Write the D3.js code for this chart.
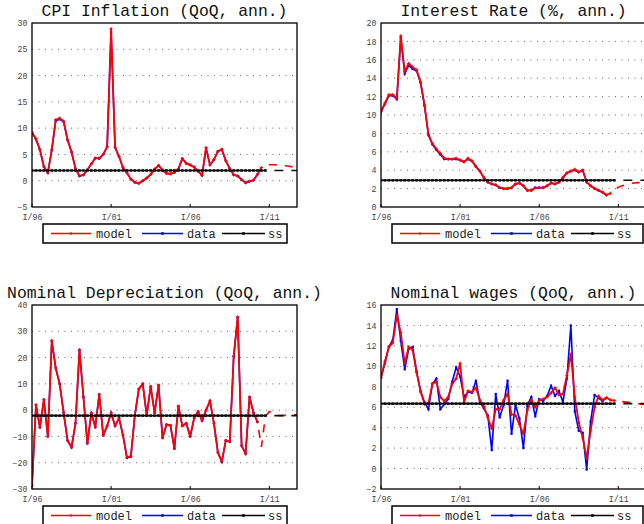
<!DOCTYPE html>
<html>
<head>
<meta charset="utf-8">
<script src="https://cdn.jsdelivr.net/npm/d3@7"></script>
<style>
  html, body { margin: 0; padding: 0; background: #ffffff; }
  svg { display: block; }
</style>
</head>
<body>
<svg id="chart" width="644" height="524"></svg>
<script>
// ---------------- DATA (quarterly, index 0 = 1996 Q1) ----------------
const quarterTicks = [0, 20, 40, 60];
const quarterTickLabels = ["I/96", "I/01", "I/06", "I/11"];
const lastQuarter = 67;

const legendLabels = ["model", "data", "ss"];

// CPI inflation
const cpiModel = [9.2, 8.0, 5.9, 2.7, 1.5, 5.9, 11.6, 11.9, 11.3, 7.8,
  5.5, 2.3, 0.9, 1.1, 2.1, 3.2, 4.3, 4.3, 5.0, 6.5,
  28.9, 6.4, 4.6, 2.5, 1.5, 0.3, -0.3, -0.5, 0.0, 0.5,
  1.2, 2.2, 2.9, 2.0, 1.4, 1.3, 1.6, 2.2, 4.2, 3.3,
  3.0, 2.6, 1.8, 1.0, 6.3, 3.0, 4.0, 5.6, 6.0, 3.8,
  2.3, 1.1, 0.9, 0.2, -0.4, -0.1, 0.1, 1.2, 2.5];
const cpiData = [9.1, 7.9, 5.9, 2.6, 1.5, 5.8, 11.4, 11.7, 11.2, 7.7,
  5.4, 2.3, 0.9, 1.1, 2.1, 3.2, 4.3, 4.2, 5.0, 6.4,
  28.3, 6.3, 4.6, 2.5, 1.5, 0.3, -0.3, -0.5, 0.0, 0.5,
  1.2, 2.2, 2.9, 2.0, 1.4, 1.3, 1.6, 2.2, 4.2, 3.3,
  3.0, 2.6, 1.8, 1.0, 6.2, 3.0, 4.0, 5.6, 5.9, 3.8,
  2.3, 1.1, 0.9, 0.2, -0.4, -0.1, 0.1, 1.2];
const cpiForecast = [2.5, 2.9, 3.05, 3.05, 3.0, 2.9, 2.85, 2.75, 2.6, 2.45]; // from Q58
const cpiSteadyState = 1.95;

// Interest rate
const rateModel = [10.4, 11.3, 12.2, 12.2, 11.8, 18.6, 14.7, 15.6, 15.2, 14.9,
  13.6, 11.1, 7.9, 6.9, 6.3, 5.8, 5.3, 5.2, 5.2, 5.3,
  5.1, 4.9, 5.3, 5.0, 4.4, 3.9, 3.2, 2.7, 2.5, 2.4,
  2.1, 2.0, 2.0, 2.1, 2.5, 2.6, 2.3, 1.8, 1.8, 2.1,
  2.1, 2.1, 2.3, 2.6, 2.5, 2.7, 3.2, 3.7, 3.9, 4.1,
  3.8, 4.0, 2.7, 2.3, 2.0, 1.8, 1.6, 1.3, 1.5];
const rateData = [10.3, 11.2, 12.1, 12.1, 11.7, 18.4, 14.5, 15.4, 15.0, 14.8,
  13.5, 11.0, 7.8, 6.8, 6.2, 5.7, 5.2, 5.2, 5.2, 5.2,
  5.1, 4.9, 5.2, 5.0, 4.4, 3.9, 3.2, 2.7, 2.5, 2.4,
  2.1, 2.0, 2.0, 2.1, 2.5, 2.6, 2.3, 1.8, 1.8, 2.1,
  2.1, 2.1, 2.3, 2.6, 2.5, 2.7, 3.2, 3.7, 3.9, 4.0,
  3.8, 4.0, 2.7, 2.3, 2.0, 1.8, 1.6, 1.3];
const rateForecast = [1.5, 1.85, 2.15, 2.3, 2.45, 2.55, 2.6, 2.65, 2.7, 2.72]; // from Q58
const rateSteadyState = 2.9;

// Nominal depreciation
const depModel = [-28.5, 2, -6.5, 4, -10, 26.5, 16, 10, -1, -11.5,
  -14, -5, 23, 5, -12.5, -1, -6.5, 6, -9.5, -6,
  -1, -6, -3, -9.5, -18, -17.5, -2, 8, 10, -2,
  9, -1, 9.5, -10.5, -5.5, -5.8, -14.5, 1.5, -6, -5,
  -10, -3, -0.5, -4, 0, 3.5, -5, -16, -19.5, -11.5,
  -12, 20.5, 35.5, -13.5, -16.5, 5, -1, -4.5];
const depData = [-28.8, 2, -6.6, 4, -10, 26.2, 16, 10, -1, -11.7,
  -14.2, -5, 22.8, 5, -12.7, -1, -6.5, 6, -9.6, -6,
  -1, -6, -3, -9.5, -18.2, -17.7, -2, 8, 10, -2,
  9, -1, 9.5, -10.6, -5.5, -5.8, -14.7, 1.5, -6, -5,
  -10, -3, -0.5, -4, 0, 3.5, -5, -16.2, -19.7, -11.5,
  -12, 20.5, 35.2, -13.6, -16.6, 5, -1, -4.5];
const depForecast = [-4.5, -14, -2.5, -0.5, -1.3, -2.0, -2.1, -2.0, -1.9, -1.8, -1.8]; // from Q57
const depSteadyState = -2.1;

// Nominal wages
const wageModel = [8.9, 10.5, 11.9, 12.3, 15.0, 13.3, 10.3, 11.9, 11.6, 9.4,
  7.6, 6.3, 6.4, 8.3, 8.5, 7.0, 6.6, 7.0, 8.3, 8.8,
  10.3, 6.5, 7.6, 7.5, 7.9, 6.7, 6.1, 5.0, 3.9, 5.8,
  5.8, 6.7, 7.3, 5.3, 5.2, 4.3, 3.4, 5.7, 6.7, 6.0,
  6.7, 6.8, 7.0, 7.4, 7.9, 7.2, 7.3, 9.1, 11.2, 7.0,
  4.5, 3.0, 1.0, 3.7, 6.0, 7.1, 6.7, 6.95, 6.7, 6.65];
const wageData = [8.9, 10.3, 11.9, 12.6, 15.6, 12.5, 9.7, 11.7, 11.9, 9.5,
  7.5, 6.5, 5.8, 8.3, 8.8, 5.8, 6.3, 6.8, 8.5, 9.9,
  9.0, 7.0, 7.5, 7.4, 8.6, 6.5, 5.9, 5.2, 1.8, 7.3,
  5.0, 6.2, 8.6, 3.4, 6.2, 4.9, 2.0, 6.2, 7.0, 5.1,
  6.8, 6.6, 7.1, 8.1, 7.1, 7.6, 6.5, 8.8, 14.0, 5.6,
  3.7, 3.5, -0.1, 4.6, 7.2, 6.9, 6.6, 6.9];
const wageForecast = [6.65, 6.6, 6.55, 6.5, 6.45, 6.4, 6.35, 6.3, 6.28]; // from Q59
const wageSteadyState = 6.35;
const ssSolidEnd = 59;

// ---------------- PANELS (layout only) ----------------
const panels = [
  { title: "CPI Inflation (QoQ, ann.)", left: 32, top: 23, yDomain: [-5, 30], yStep: 5,
    model: cpiModel, data: cpiData, fc: cpiForecast, ss: cpiSteadyState, legendW: 244 },
  { title: "Interest Rate (%, ann.)", left: 381, top: 23, yDomain: [0, 20], yStep: 2,
    model: rateModel, data: rateData, fc: rateForecast, ss: rateSteadyState, legendW: 251 },
  { title: "Nominal Depreciation (QoQ, ann.)", left: 32, top: 305, yDomain: [-30, 40], yStep: 10,
    model: depModel, data: depData, fc: depForecast, ss: depSteadyState, legendW: 244 },
  { title: "Nominal wages (QoQ, ann.)", left: 381, top: 305, yDomain: [-2, 16], yStep: 2,
    model: wageModel, data: wageData, fc: wageForecast, ss: wageSteadyState, legendW: 251 }
];

const PW = 265, PH = 184;
const RED = "#ff0000", BLUE = "#0000ff", BLACK = "#000000";
const MONO = "'Liberation Mono', 'DejaVu Sans Mono', monospace";

const svg = d3.select("#chart");

function plusMarker(g, pts, color) {
  g.selectAll(null).data(pts).enter().append("path")
    .attr("d", d => `M${d[0]-1.6},${d[1]}h3.2M${d[0]},${d[1]-1.6}v3.2`)
    .attr("stroke", color).attr("stroke-width", 1).attr("fill", "none");
}
function squareMarker(g, pts, color, s) {
  g.selectAll(null).data(pts).enter().append("rect")
    .attr("x", d => d[0] - s/2).attr("y", d => d[1] - s/2)
    .attr("width", s).attr("height", s).attr("fill", color);
}

panels.forEach((p, k) => {
  const x = d3.scaleLinear().domain([0, lastQuarter]).range([p.left, p.left + PW]);
  const y = d3.scaleLinear().domain(p.yDomain).range([p.top + PH, p.top]);
  const g = svg.append("g");
  const yTicks = d3.range(p.yDomain[0], p.yDomain[1] + 1e-9, p.yStep);

  const clipId = "clip" + k;
  svg.append("clipPath").attr("id", clipId).append("rect")
    .attr("x", p.left).attr("y", p.top).attr("width", PW).attr("height", PH);

  // grid (horizontal dotted)
  g.append("g").selectAll("line")
    .data(yTicks.filter(v => v > p.yDomain[0] && v < p.yDomain[1]))
    .enter().append("line")
    .attr("x1", p.left).attr("x2", p.left + PW)
    .attr("y1", d => y(d)).attr("y2", d => y(d))
    .attr("stroke", "#666").attr("stroke-width", 1)
    .attr("stroke-dasharray", "1,5.5");

  // y axis labels
  const ya = g.append("g").attr("transform", `translate(${p.left},0)`)
    .call(d3.axisLeft(y).tickValues(yTicks).tickSize(0).tickPadding(4.5));
  ya.select(".domain").remove();
  ya.selectAll("text").attr("font-family", MONO).attr("font-size", 8.3).attr("fill", "#444");

  // x axis labels
  const xa = g.append("g").attr("transform", `translate(0,${p.top + PH})`)
    .call(d3.axisBottom(x).tickValues(quarterTicks)
      .tickFormat((d, i) => quarterTickLabels[i]).tickSize(0).tickPadding(7));
  xa.select(".domain").remove();
  xa.selectAll("text").attr("font-family", MONO).attr("font-size", 8.3).attr("fill", "#444");

  // inward ticks at bottom
  g.append("g").selectAll("line").data(quarterTicks).enter().append("line")
    .attr("x1", d => x(d)).attr("x2", d => x(d))
    .attr("y1", p.top + PH).attr("y2", p.top + PH - 3)
    .attr("stroke", BLACK).attr("stroke-width", 1);

  const plot = g.append("g").attr("clip-path", `url(#${clipId})`);
  const line = d3.line().x(d => x(d[0])).y(d => y(d[1]));

  // data (blue)
  const dataPts = p.data.map((v, i) => [i, v]);
  plot.append("path").datum(dataPts).attr("d", line)
    .attr("fill", "none").attr("stroke", BLUE).attr("stroke-width", 1.6);
  squareMarker(plot, dataPts.map(d => [x(d[0]), y(d[1])]), BLUE, 2.2);

  // model (red)
  const modelPts = p.model.map((v, i) => [i, v]);
  plot.append("path").datum(modelPts).attr("d", line)
    .attr("fill", "none").attr("stroke", RED).attr("stroke-width", 1.8)
    .attr("stroke-linejoin", "round");
  plusMarker(plot, modelPts.map(d => [x(d[0]), y(d[1])]), RED);

  // forecast (red dashed), continues from last model quarter
  const fcStart = lastQuarter - p.fc.length + 1;
  const fcPts = p.fc.map((v, i) => [fcStart + i, v]);
  plot.append("path").datum(fcPts).attr("d", line)
    .attr("fill", "none").attr("stroke", RED).attr("stroke-width", 1.6)
    .attr("stroke-dasharray", "8,8").attr("stroke-dashoffset", 8);

  // steady state (black)
  const ssPts = d3.range(0, ssSolidEnd + 1).map(i => [i, p.ss]);
  plot.append("path").datum(ssPts).attr("d", line)
    .attr("fill", "none").attr("stroke", BLACK).attr("stroke-width", 1.6);
  squareMarker(plot, ssPts.map(d => [x(d[0]), y(d[1])]), "#111", 2.6);
  plot.append("path").datum([[ssSolidEnd, p.ss], [lastQuarter, p.ss]]).attr("d", line)
    .attr("fill", "none").attr("stroke", "#111").attr("stroke-width", 1.6)
    .attr("stroke-dasharray", "9,8").attr("stroke-dashoffset", 8);

  // frame
  g.append("rect").attr("x", p.left).attr("y", p.top).attr("width", PW).attr("height", PH)
    .attr("fill", "none").attr("stroke", BLACK).attr("stroke-width", 1.3);

  // title
  g.append("text").attr("x", p.left + PW / 2).attr("y", p.top - 7.5)
    .attr("text-anchor", "middle").attr("font-family", MONO).attr("font-size", 16.4)
    .attr("fill", "#111").text(p.title);

  // legend
  const lx = p.left + 11, ly = p.top + PH + 17;
  const lg = g.append("g").attr("transform", `translate(${lx},${ly})`);
  lg.append("rect").attr("x", 0).attr("y", 0).attr("width", p.legendW).attr("height", 19)
    .attr("fill", "#fff").attr("stroke", BLACK).attr("stroke-width", 1.5);
  const entries = [
    { x0: 8, x1: 48, tx: 53, color: RED, marker: "plus" },
    { x0: 99, x1: 140, tx: 144, color: BLUE, marker: "sq" },
    { x0: 179, x1: 222, tx: 225, color: BLACK, marker: "dot" }
  ];
  entries.forEach((e, i) => {
    lg.append("line").attr("x1", e.x0).attr("x2", e.x1).attr("y1", 9.5).attr("y2", 9.5)
      .attr("stroke", e.color).attr("stroke-width", 1.6);
    const mx = (e.x0 + e.x1) / 2;
    if (e.marker === "plus") plusMarker(lg, [[mx, 9.5]], e.color);
    else squareMarker(lg, [[mx, 9.5]], e.color, 2.6);
    lg.append("text").attr("x", e.tx).attr("y", 13.8)
      .attr("font-family", MONO).attr("font-size", 12).attr("fill", "#222")
      .text(legendLabels[i]);
  });
});
</script>
</body>
</html>
